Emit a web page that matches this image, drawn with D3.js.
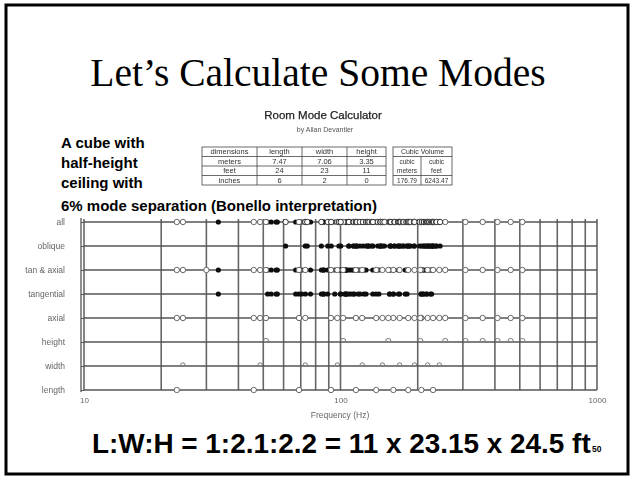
<!DOCTYPE html>
<html><head><meta charset="utf-8">
<script src="https://cdn.jsdelivr.net/npm/d3@7"></script>
<style>body{margin:0;background:#fff}svg{display:block}</style>
</head><body>
<svg id="c" width="635" height="481"></svg>
<script>
// Room dimensions and mode frequencies (Hz)
const rowNames = ["all", "oblique", "tan & axial", "tangential", "axial", "height", "width", "length"];
const lengthModes = [23.0, 45.9, 68.9, 91.8, 114.8, 137.8, 160.7, 183.7, 206.6, 229.6];
const widthModes = [24.3, 48.6, 72.9, 97.2, 121.5, 145.7, 170.0, 194.3, 218.6, 242.9];
const heightModes = [51.2, 102.4, 153.6, 204.8, 256.0, 307.1, 358.3, 409.5, 460.7, 511.9];
const tangentialModes = [33.4, 52.0, 53.7, 56.1, 56.7, 66.9, 68.8, 70.6, 73.0, 76.4, 84.3, 85.8, 86.1, 89.1,
  95.0, 99.8, 100.3, 103.9, 104.9, 105.2, 105.2, 107.5, 109.8, 112.2, 113.3, 117.2, 119.1, 123.4, 125.7,
  133.7, 137.5, 141.1, 155.3, 155.5, 160.3, 161.1, 168.3, 170.0, 178.9, 181.7, 206.0, 206.2, 209.9, 210.4,
  216.0, 217.3, 224.4, 226.6];
const obliqueModes = [61.1, 72.9, 74.2, 84.2, 89.2, 92.0, 98.6, 100.2, 107.7, 107.9, 112.2, 112.6, 114.8,
  115.6, 115.8, 119.0, 122.3, 125.8, 127.8, 127.9, 129.6, 132.6, 133.8, 139.7, 143.0, 143.2, 143.3, 145.9,
  148.4, 155.7, 157.1, 157.2, 162.1, 162.7, 167.5, 168.4, 170.1, 171.5, 175.2, 176.1, 180.6, 183.2, 183.4,
  185.4, 187.4, 193.2, 194.3, 203.6, 207.5, 211.3, 211.7, 215.4, 217.4, 218.6, 221.4, 222.1, 225.7, 227.8,
  228.0, 229.6, 231.3, 235.9, 236.9, 244.5];
const tanAxialExtra = [30.0];
const axialModes = lengthModes.concat(widthModes, heightModes);
const freqTicks = [10, 100, 1000];

// Calculator table
const tableHead = ["dimensions", "length", "width", "height"];
const tableRows = [["meters", "7.47", "7.06", "3.35"], ["feet", "24", "23", "11"], ["inches", "6", "2", "0"]];
const volumeHead = "Cubic Volume";
const volumeUnits = [["cubic", "meters"], ["cubic", "feet"]];
const volumeValues = ["176.79", "6243.47"];

const noteLines = ["A cube with", "half-height", "ceiling with", "6% mode separation (Bonello interpretation)"];
const titleText = "Let\u2019s Calculate Some Modes";
const ratioText = "L:W:H = 1:2.1:2.2 = 11 x 23.15 x 24.5 ft";
const slideNo = "50";

const svg = d3.select("#c");
svg.append("rect").attr("width", 635).attr("height", 481).attr("fill", "#fff");

// slide frame
svg.append("rect").attr("x", 6).attr("y", 5).attr("width", 622).attr("height", 469)
  .attr("fill", "none").attr("stroke", "#000").attr("stroke-width", 3);

svg.append("text").attr("x", 318).attr("y", 86).attr("text-anchor", "middle")
  .attr("font-family", "Liberation Serif, Times New Roman, serif").attr("font-size", 39.5)
  .attr("fill", "#000").text(titleText);

// soft filter for the embedded calculator screenshot
const defs = svg.append("defs");
defs.append("filter").attr("id", "soft").append("feGaussianBlur").attr("stdDeviation", 0.45);

const shot = svg.append("g").attr("filter", "url(#soft)");

shot.append("text").attr("x", 323).attr("y", 119).attr("text-anchor", "middle")
  .attr("font-family", "Liberation Sans, Arial, sans-serif").attr("font-size", 11.5)
  .attr("fill", "#222").attr("stroke", "#222").attr("stroke-width", 0.25).text("Room Mode Calculator");
shot.append("text").attr("x", 325).attr("y", 132).attr("text-anchor", "middle")
  .attr("font-family", "Liberation Sans, Arial, sans-serif").attr("font-size", 7)
  .attr("fill", "#555").text("by Allan Devantier");

// table
const colX = [202, 257, 302, 347, 386];
const rowY = [147, 156.5, 166, 175.5, 185];
const tbl = shot.append("g").attr("font-family", "Liberation Sans, Arial, sans-serif")
  .attr("font-size", 7.5).attr("fill", "#333").attr("text-anchor", "middle");
const lineC = "#444";
tbl.append("rect").attr("x", colX[0]).attr("y", rowY[0]).attr("width", colX[4] - colX[0])
  .attr("height", rowY[4] - rowY[0]).attr("fill", "none").attr("stroke", lineC).attr("stroke-width", 0.8);
rowY.slice(1, 4).forEach(y => tbl.append("line").attr("x1", colX[0]).attr("x2", colX[4])
  .attr("y1", y).attr("y2", y).attr("stroke", lineC).attr("stroke-width", 0.8));
colX.slice(1, 4).forEach(x => tbl.append("line").attr("x1", x).attr("x2", x)
  .attr("y1", rowY[0]).attr("y2", rowY[4]).attr("stroke", lineC).attr("stroke-width", 0.8));
tableHead.forEach((t, i) => tbl.append("text").attr("x", (colX[i] + colX[i + 1]) / 2)
  .attr("y", rowY[0] + 7).text(t));
tableRows.forEach((r, j) => r.forEach((t, i) => tbl.append("text")
  .attr("x", (colX[i] + colX[i + 1]) / 2).attr("y", rowY[j + 1] + 7).text(t)));

const vX = [393, 421, 452];
tbl.append("rect").attr("x", vX[0]).attr("y", rowY[0]).attr("width", vX[2] - vX[0])
  .attr("height", rowY[4] - rowY[0]).attr("fill", "none").attr("stroke", lineC).attr("stroke-width", 0.8);
tbl.append("line").attr("x1", vX[0]).attr("x2", vX[2]).attr("y1", rowY[1]).attr("y2", rowY[1])
  .attr("stroke", lineC).attr("stroke-width", 0.8);
tbl.append("line").attr("x1", vX[0]).attr("x2", vX[2]).attr("y1", rowY[3]).attr("y2", rowY[3])
  .attr("stroke", lineC).attr("stroke-width", 0.8);
tbl.append("line").attr("x1", vX[1]).attr("x2", vX[1]).attr("y1", rowY[1]).attr("y2", rowY[4])
  .attr("stroke", lineC).attr("stroke-width", 0.8);
tbl.append("text").attr("x", (vX[0] + vX[2]) / 2).attr("y", rowY[0] + 7).attr("font-size", 7).text(volumeHead);
volumeUnits.forEach((u, i) => u.forEach((t, k) => tbl.append("text")
  .attr("x", (vX[i] + vX[i + 1]) / 2).attr("y", rowY[1] + 7 + k * 9.5).attr("font-size", 6.5).text(t)));
volumeValues.forEach((t, i) => tbl.append("text")
  .attr("x", (vX[i] + vX[i + 1]) / 2).attr("y", rowY[3] + 7).attr("font-size", 6.5).text(t));

// mode chart
const x = d3.scaleLog().domain([10, 1000]).range([84, 597]);
const y = d3.scalePoint().domain(rowNames).range([222, 390]);
const chart = shot.append("g");

chart.append("g").selectAll("line").data(x.ticks()).join("line")
  .attr("x1", d => x(d)).attr("x2", d => x(d)).attr("y1", 219).attr("y2", 390)
  .attr("stroke", "#666").attr("stroke-width", 1.6);

chart.append("g").selectAll("line").data(rowNames).join("line")
  .attr("x1", 84).attr("x2", 597).attr("y1", d => y(d)).attr("y2", d => y(d))
  .attr("stroke", "#555").attr("stroke-width", 1.3);

const yAxis = chart.append("g").attr("transform", "translate(84,0)")
  .call(d3.axisLeft(y).tickSize(3).tickPadding(16));
yAxis.select(".domain").attr("stroke", "#555").attr("stroke-width", 1.3).attr("d", "M-3,218V392");
yAxis.selectAll(".tick line").attr("stroke", "#555");
yAxis.selectAll("text").attr("font-family", "Liberation Sans, Arial, sans-serif")
  .attr("font-size", 8.5).attr("fill", "#666");

const xAxis = chart.append("g").attr("transform", "translate(0,392)")
  .call(d3.axisBottom(x).tickValues(freqTicks).tickFormat(d3.format("d")).tickSize(0).tickPadding(5));
xAxis.select(".domain").remove();
xAxis.selectAll("text").attr("font-family", "Liberation Sans, Arial, sans-serif")
  .attr("font-size", 8).attr("fill", "#666");

chart.append("text").attr("x", 340).attr("y", 418).attr("text-anchor", "middle")
  .attr("font-family", "Liberation Sans, Arial, sans-serif").attr("font-size", 8.5)
  .attr("fill", "#666").text("Frequency (Hz)");

function hollow(vals, row, stroke) {
  chart.append("g").selectAll("circle").data(vals).join("circle")
    .attr("cx", d => x(d)).attr("cy", y(row)).attr("r", 2.7)
    .attr("fill", "#fff").attr("stroke", stroke || "#666").attr("stroke-width", 1);
}
function filled(vals, row) {
  chart.append("g").selectAll("circle").data(vals).join("circle")
    .attr("cx", d => x(d)).attr("cy", y(row)).attr("r", 2.6).attr("fill", "#111");
}
function arch(vals, row, r, dy) {
  chart.append("g").selectAll("path").data(vals).join("path")
    .attr("d", d => `M${x(d) - r},${y(row) - dy}a${r},${r} 0 0 1 ${2 * r},0`)
    .attr("fill", "none").attr("stroke", "#777").attr("stroke-width", 1);
}

filled(tangentialModes, "all");
hollow(axialModes, "all");
hollow(obliqueModes, "all", "#333");
filled(obliqueModes, "oblique");
filled(tangentialModes, "tan & axial");
hollow(axialModes.concat(tanAxialExtra), "tan & axial");
filled(tangentialModes, "tangential");
hollow(axialModes, "axial");
arch(heightModes, "height", 2.6, 1);
arch(widthModes, "width", 2.2, 1);
hollow(lengthModes, "length");

// slide notes
const notes = svg.append("g").attr("font-family", "Liberation Sans, Arial, sans-serif")
  .attr("font-weight", "bold").attr("font-size", 15).attr("fill", "#000");
const noteY = [147.5, 168, 188, 210.5];
noteLines.forEach((t, i) => notes.append("text").attr("x", 61).attr("y", noteY[i]).text(t));

svg.append("text").attr("x", 92).attr("y", 453)
  .attr("font-family", "Liberation Sans, Arial, sans-serif").attr("font-weight", "bold")
  .attr("font-size", 27.9).attr("fill", "#000").text(ratioText);
svg.append("text").attr("x", 592).attr("y", 452)
  .attr("font-family", "Liberation Sans, Arial, sans-serif").attr("font-weight", "bold")
  .attr("font-size", 8.5).attr("fill", "#000").text(slideNo);
</script>
</body></html>
